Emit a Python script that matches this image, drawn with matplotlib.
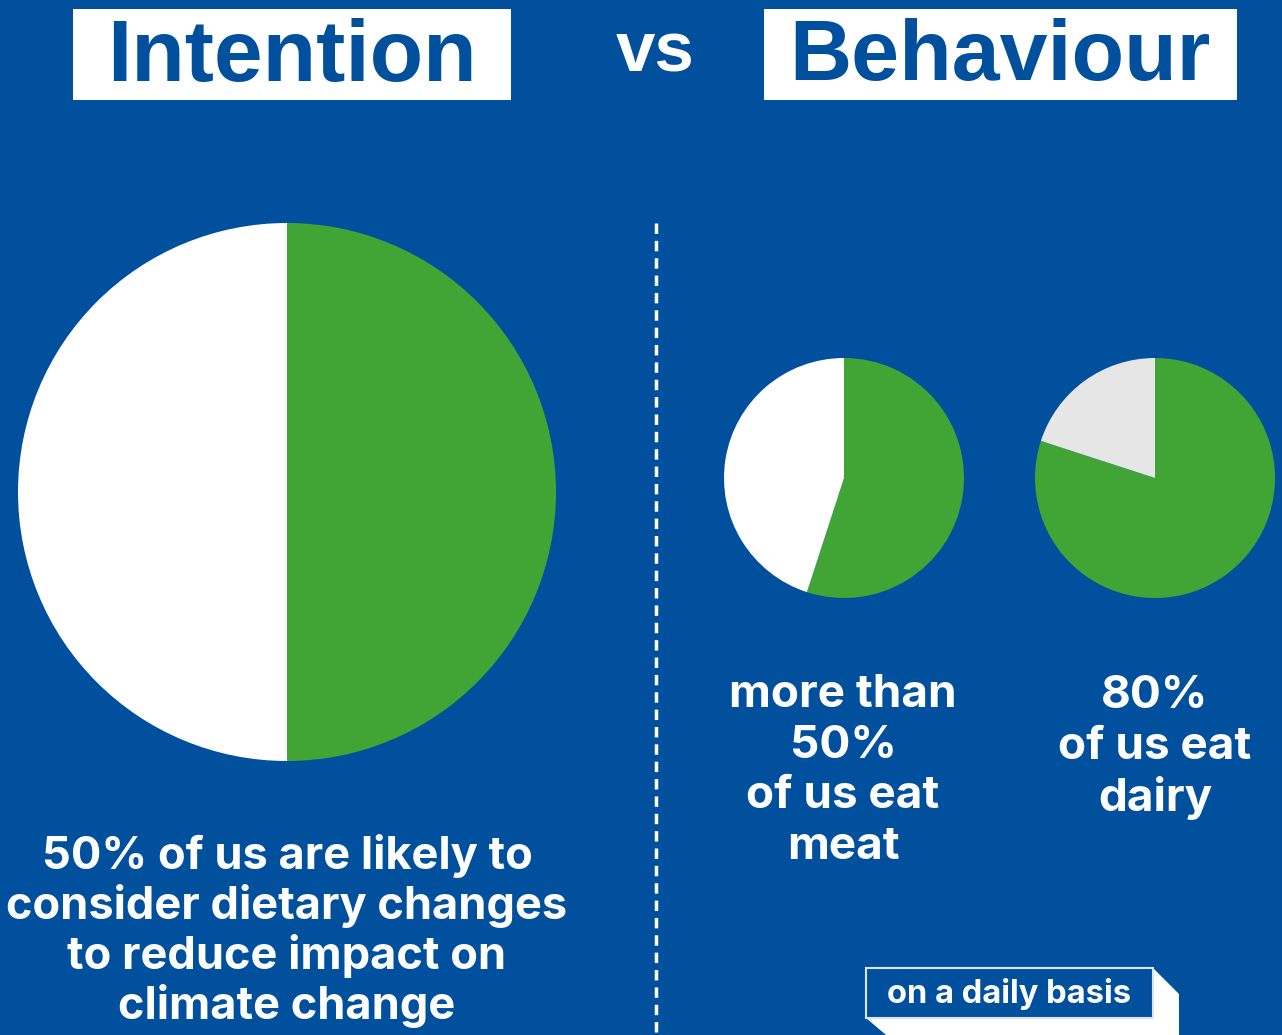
import matplotlib
matplotlib.use("Agg")
import matplotlib.pyplot as plt
from matplotlib.patches import Rectangle, Polygon

# ---- data ----
intention_labels = ["likely to change", "other"]
intention_values = [50, 50]
meat_labels = ["eat meat", "other"]
meat_values = [55, 45]
dairy_labels = ["eat dairy", "other"]
dairy_values = [80, 20]

title_left = "Intention"
title_mid = "vs"
title_right = "Behaviour"
caption_intention = "50% of us are likely to\nconsider dietary changes\nto reduce impact on\nclimate change"
caption_meat = "more than\n50%\nof us eat\nmeat"
caption_dairy = "80%\nof us eat\ndairy"
footnote = "on a daily basis"

BG = "#00509E"
GREEN = "#40A535"
WHITE = "#FFFFFF"
GREY = "#E6E6E6"
DARK = "#00509E"

W, H = 1282, 1035
fig = plt.figure(figsize=(W / 100, H / 100), dpi=100)
fig.patch.set_facecolor(BG)

ax = fig.add_axes([0, 0, 1, 1])
ax.set_xlim(0, W)
ax.set_ylim(H, 0)
ax.axis("off")

FONT = ["Inter", "DejaVu Sans"]
TFONT = ["Liberation Sans", "DejaVu Sans"]

# title boxes
ax.add_patch(Rectangle((73, 9), 438, 91, facecolor=WHITE, edgecolor="none"))
ax.add_patch(Rectangle((764, 9), 473, 91, facecolor=WHITE, edgecolor="none"))
ax.text(292, 58, title_left, color=DARK, fontsize=63, fontweight="bold",
        family=TFONT, ha="center", va="center")
ax.text(1000, 58, title_right, color=DARK, fontsize=62, fontweight="bold",
        family=TFONT, ha="center", va="center")
ax.text(655, 53, title_mid, color=WHITE, fontsize=51, fontweight="bold",
        family=TFONT, ha="center", va="center")

# dashed divider
ax.plot([656, 656], [223, H], color=WHITE, lw=2.5, linestyle=(0, (3, 2)))

# captions
ax.text(287, 931, caption_intention, color=WHITE, fontsize=32.5, fontweight="bold",
        family=FONT, ha="center", va="center", linespacing=1.18)
ax.text(843, 771, caption_meat, color=WHITE, fontsize=33, fontweight="bold",
        family=FONT, ha="center", va="center", linespacing=1.27)
ax.text(1155, 748, caption_dairy, color=WHITE, fontsize=33, fontweight="bold",
        family=FONT, ha="center", va="center", linespacing=1.25)

# footnote box with 3D shadow
x0, y0, x1, y1 = 866, 968, 1153, 1018
d = 26
ax.add_patch(Polygon([(x1, y0), (x1 + d, y0 + d), (x1 + d, H + 5), (x0 + d, H + 5),
                      (x0, y1), (x1, y1)], closed=True, facecolor=WHITE, edgecolor="none"))
ax.add_patch(Rectangle((x0, y0), x1 - x0, y1 - y0, facecolor=BG, edgecolor="#DDE4EE", lw=1.5))
ax.text((x0 + x1) / 2, (y0 + y1) / 2 + 1, footnote, color=WHITE, fontsize=23.5, fontweight="bold",
        family=FONT, ha="center", va="center")


def pie_axes(cx, cy, r):
    a = fig.add_axes([(cx - r) / W, 1 - (cy + r) / H, 2 * r / W, 2 * r / H])
    a.axis("off")
    return a


def draw_pie(a, values, colors):
    a.pie(values, colors=colors, startangle=90, counterclock=False,
          radius=1, wedgeprops=dict(linewidth=0))
    a.set_xlim(-1, 1)
    a.set_ylim(-1, 1)
    a.axis("off")


a1 = pie_axes(287, 492, 269)
draw_pie(a1, intention_values, [GREEN, WHITE])
a2 = pie_axes(844, 478, 120)
draw_pie(a2, meat_values, [GREEN, WHITE])
a3 = pie_axes(1155, 478, 120)
draw_pie(a3, dairy_values, [GREEN, GREY])

fig.savefig("out.png", dpi=100, facecolor=BG)
